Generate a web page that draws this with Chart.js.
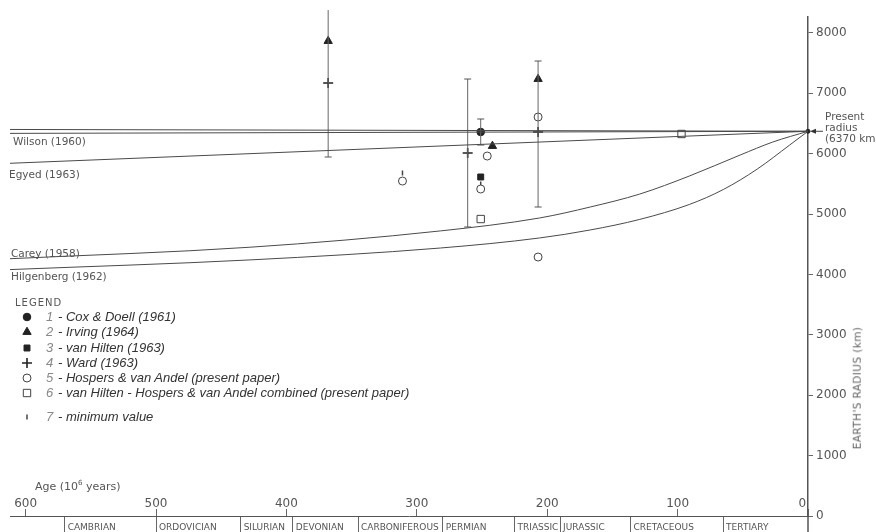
<!DOCTYPE html>
<html>
<head>
<meta charset="utf-8">
<script src="https://cdn.jsdelivr.net/npm/chart.js@4.4.1/dist/chart.umd.min.js"></script>
<style>
  html, body { margin: 0; padding: 0; background: #fff; }
  #wrap { position: relative; width: 876px; height: 532px; overflow: hidden; font-family: "DejaVu Sans", sans-serif; color: #555; }
  #chart { position: absolute; left: 0; top: 0; }
  .lbl { position: absolute; white-space: nowrap; line-height: 1; }
  .curve { font-size: 10.5px; }
  .leg { font-family: "Liberation Sans", Arial, sans-serif; font-style: italic; font-size: 13px; color: #333; }
  .leg .n { color: #888; display: inline-block; width: 12px; }
</style>
</head>
<body>
<div id="wrap">
  <canvas id="chart" width="876" height="532"></canvas>
  <div class="lbl curve" style="left:13px;top:136px">Wilson (1960)</div>
  <div class="lbl curve" style="left:9px;top:169px">Egyed (1963)</div>
  <div class="lbl curve" style="left:11px;top:248px">Carey (1958)</div>
  <div class="lbl curve" style="left:11px;top:271px">Hilgenberg (1962)</div>
  <div class="lbl" style="left:35px;top:480px;font-size:11px">Age (10<sup style="font-size:7px">6</sup> years)</div>
  <div class="lbl" style="left:825px;top:111px;font-size:10.5px;line-height:11px">Present<br>radius<br>(6370 km</div>
  <div class="lbl" style="left:857px;top:388px;font-size:10.5px;letter-spacing:0.4px;color:#666;transform:translate(-50%,-50%) rotate(-90deg)">EARTH'S RADIUS (km)</div>
  <div class="lbl" style="left:15px;top:298px;font-size:10px;letter-spacing:1px">LEGEND</div>
  <div id="legend"></div>
</div>
<script>
// geological time scale (10^6 years)
const periodStart = [570, 500, 435, 395, 345, 280, 225, 190, 136, 65];
const periodNames = ['CAMBRIAN', 'ORDOVICIAN', 'SILURIAN', 'DEVONIAN', 'CARBONIFEROUS', 'PERMIAN', 'TRIASSIC', 'JURASSIC', 'CRETACEOUS', 'TERTIARY'];

// expansion curves: age (10^6 y) -> radius (km)
const wilsonAge = [612, 0];
const wilsonUpper = [6400, 6370];
const wilsonLower = [6335, 6370];
const egyedAge = [612, 0];
const egyedRadius = [5840, 6370];
const careyAge = [612, 428, 282, 206, 167, 129, 91, 52, 27, 0];
const careyRadius = [4260, 4450, 4720, 4934, 5116, 5331, 5629, 5977, 6192, 6370];
const hilgenbergAge = [612, 428, 282, 206, 167, 129, 91, 65, 39, 14, 0];
const hilgenbergRadius = [4080, 4240, 4437, 4603, 4736, 4911, 5158, 5405, 5743, 6143, 6370];

// paleomagnetic estimates
const coxAge = [251];
const coxRadius = [6358];
const irvingAge = [368, 242, 207];
const irvingRadius = [7864, 6126, 7235];
const vanHiltenAge = [251];
const vanHiltenRadius = [5613];
const wardAge = [368, 261, 207];
const wardRadius = [7169, 6010, 6358];
const hospersAge = [311, 246, 251, 207, 207];
const hospersRadius = [5546, 5960, 5414, 6606, 4288];
const combinedAge = [251, 97];
const combinedRadius = [4917, 6325];
const minimumAge = [311, 251];
const minimumRadius = [5679, 5497];

// error ranges
const barAge = [368, 261, 251, 207];
const barLow = [5944, 4785, 6142, 5116];
const barHigh = [8377, 7235, 6573, 7533];

const presentAge = [0];
const presentRadius = [6370];

const ageTicks = [600, 500, 400, 300, 200, 100, 0];
const radiusTicks = [0, 1000, 2000, 3000, 4000, 5000, 6000, 7000, 8000];

const legendItems = [
  'Cox & Doell (1961)',
  'Irving (1964)',
  'van Hilten (1963)',
  'Ward (1963)',
  'Hospers & van Andel (present paper)',
  'van Hilten - Hospers & van Andel combined (present paper)',
  'minimum value'
];

const xy = (xs, ys) => xs.map((x, i) => ({x, y: ys[i]}));

const curve = (label, data, extra={}) => Object.assign({
  label, data, showLine: true, borderColor: '#4a4a4a', borderWidth: 1,
  pointRadius: 0, fill: false, clip: false
}, extra);

const bars = barAge.map((a, i) => ({
  label: 'range', data: [{x: a, y: barLow[i]}, {x: a, y: barHigh[i]}],
  showLine: true, borderColor: '#666', borderWidth: 1,
  pointStyle: 'line', pointRadius: 3.5, pointBorderColor: '#555', pointBorderWidth: 1, clip: false
}));

const symbolSets = [
  {label: legendItems[0], data: xy(coxAge, coxRadius), pointStyle: 'circle', pointRadius: 3.8, backgroundColor: '#222', borderColor: '#222', borderWidth: 1},
  {label: legendItems[1], data: xy(irvingAge, irvingRadius), pointStyle: 'triangle', pointRadius: 4.8, backgroundColor: '#222', borderColor: '#222', borderWidth: 1},
  {label: legendItems[2], data: xy(vanHiltenAge, vanHiltenRadius), pointStyle: 'rect', pointRadius: 4.2, backgroundColor: '#222', borderColor: '#222', borderWidth: 1},
  {label: legendItems[3], data: xy(wardAge, wardRadius), pointStyle: 'cross', pointRadius: 5, backgroundColor: '#222', borderColor: '#222', borderWidth: 1.6},
  {label: legendItems[4], data: xy(hospersAge, hospersRadius), pointStyle: 'circle', pointRadius: 4, backgroundColor: '#fff', borderColor: '#444', borderWidth: 1},
  {label: legendItems[5], data: xy(combinedAge, combinedRadius), pointStyle: 'rect', pointRadius: 5.2, backgroundColor: '#fff', borderColor: '#444', borderWidth: 1},
  {label: legendItems[6], data: xy(minimumAge, minimumRadius), pointStyle: 'line', rotation: 90, pointRadius: 2.5, backgroundColor: '#444', borderColor: '#444', borderWidth: 1.5}
].map(d => Object.assign({showLine: false, clip: false}, d));

// legend rows (text as html, symbols on canvas)
const legendRowY = [317, 332, 348, 363, 378, 393, 417];
const legendBox = document.getElementById('legend');
legendItems.forEach((t, i) => {
  const d = document.createElement('div');
  d.className = 'lbl leg';
  d.style.left = '46px';
  d.style.top = (legendRowY[i] - 7) + 'px';
  d.innerHTML = `<span class="n">${i+1}</span>- ${t.replace('&', '&amp;')}`;
  legendBox.appendChild(d);
});

const extras = {
  id: 'extras',
  afterDraw(chart){
    const {ctx, scales: {x, y}} = chart;
    const ax = y.left, bot = chart.chartArea.bottom;
    ctx.save();
    ctx.strokeStyle = '#555'; ctx.lineWidth = 1.5;
    ctx.beginPath(); ctx.moveTo(ax, bot); ctx.lineTo(ax, chart.height); ctx.stroke();
    // arrow to present radius
    const px = x.getPixelForValue(presentAge[0]), py = y.getPixelForValue(presentRadius[0]);
    ctx.lineWidth = 1; ctx.strokeStyle = '#444'; ctx.fillStyle = '#333';
    ctx.beginPath(); ctx.moveTo(px + 5, py); ctx.lineTo(px + 15, py); ctx.stroke();
    ctx.beginPath(); ctx.moveTo(px + 2, py); ctx.lineTo(px + 8, py - 2.5); ctx.lineTo(px + 8, py + 2.5); ctx.closePath(); ctx.fill();
    // legend symbols
    symbolSets.forEach((d, i) => {
      ctx.fillStyle = d.backgroundColor; ctx.strokeStyle = d.borderColor; ctx.lineWidth = d.borderWidth;
      Chart.helpers.drawPoint(ctx, {pointStyle: d.pointStyle, radius: d.pointRadius, rotation: d.rotation || 0, borderWidth: d.borderWidth}, 27, legendRowY[i]);
    });
    ctx.restore();
  }
};

new Chart(document.getElementById('chart'), {
  type: 'scatter',
  data: {
    datasets: [
      curve('Wilson (1960)', xy(wilsonAge, wilsonUpper)),
      curve('Wilson (1960)', xy(wilsonAge, wilsonLower)),
      curve('Egyed (1963)', xy(egyedAge, egyedRadius)),
      curve('Carey (1958)', xy(careyAge, careyRadius), {cubicInterpolationMode: 'monotone'}),
      curve('Hilgenberg (1962)', xy(hilgenbergAge, hilgenbergRadius), {cubicInterpolationMode: 'monotone'}),
      ...bars,
      ...symbolSets,
      {label: 'present radius', data: xy(presentAge, presentRadius), pointStyle: 'circle', pointRadius: 2, backgroundColor: '#222', borderColor: '#222', clip: false}
    ]
  },
  options: {
    responsive: false,
    animation: false,
    devicePixelRatio: 1,
    layout: { padding: { left: 10, top: 17, right: 0, bottom: 0 } },
    plugins: { legend: { display: false }, tooltip: { enabled: false } },
    scales: {
      x: {
        type: 'linear', position: 'bottom', weight: 0, reverse: true, min: 0, max: 612,
        afterBuildTicks: s => { s.ticks = ageTicks.map(v => ({value: v})); },
        afterFit: s => { s.height = 0; },
        ticks: { mirror: true, padding: 5, color: '#555', font: { family: 'DejaVu Sans', size: 12 }, maxRotation: 0, autoSkip: false,
                 callback: v => v === 0 ? '0   ' : String(v) },
        grid: { drawOnChartArea: false, drawTicks: true, tickLength: -7, color: '#666' },
        border: { color: '#555', width: 1 }
      },
      periods: {
        type: 'linear', axis: 'x', position: 'bottom', weight: 1, reverse: true, min: 0, max: 612,
        afterBuildTicks: s => { s.ticks = periodStart.map(v => ({value: v})); },
        afterFit: s => { s.height = 16; },
        ticks: { callback: (v, i) => ' ' + periodNames[i], align: 'start', padding: -10, autoSkip: false, maxRotation: 0, minRotation: 0, color: '#555', font: { family: 'DejaVu Sans', size: 9 } },
        grid: { drawOnChartArea: false, drawTicks: true, tickLength: 16, color: '#666' },
        border: { display: false }
      },
      y: {
        type: 'linear', position: 'right', min: 0, max: 8262,
        afterBuildTicks: s => { s.ticks = radiusTicks.map(v => ({value: v})); },
        afterFit: s => { s.width = 68; },
        ticks: { padding: 3, color: '#555', font: { family: 'DejaVu Sans', size: 12 }, callback: v => String(v) },
        grid: { drawOnChartArea: false, drawTicks: true, tickLength: 5, color: '#666' },
        border: { color: '#555', width: 1.5 }
      }
    }
  },
  plugins: [extras]
});
</script>
</body>
</html>
